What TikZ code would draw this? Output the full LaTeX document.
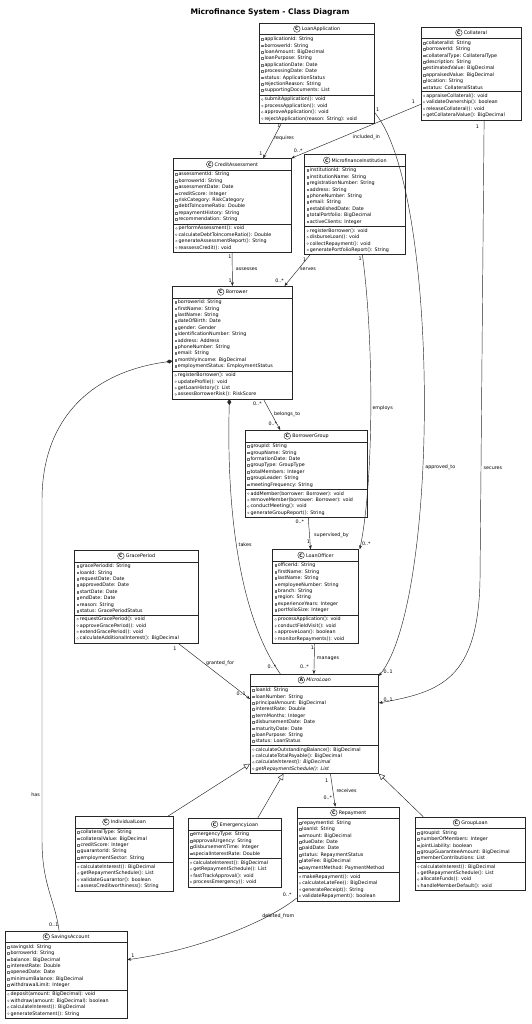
\documentclass[tikz,border=0pt]{standalone}
\usepackage{fontspec}
\setmainfont{DejaVu Sans}
\usetikzlibrary{shapes.multipart, arrows.meta}

\newcommand{\cicon}[1]{\tikz[baseline=-0.65ex]\node[shape=circle, draw=black!85, fill=white, line width=0.4pt, inner sep=0pt, minimum size=6.6pt, anchor=center, font=\fontsize{4.7}{5}\selectfont\bfseries] {#1};\hspace{1.5pt}}
\newcommand{\fd}{\tikz[baseline=0pt]\draw[draw=black!55, line width=0.25pt] (0pt,0.6pt) rectangle (1.8pt,2.4pt);\hspace{1.2pt}}
\newcommand{\md}{\tikz[baseline=0pt]\draw[draw=black!55, line width=0.25pt] (0.95pt,1.5pt) circle[radius=0.95pt];\hspace{1.2pt}}

\tikzset{
  classbox/.style={draw=black!85, fill=white, line width=0.5pt, anchor=north west,
    rectangle split, rectangle split parts=3, rectangle split part align={center,left,left},
    align=left, inner xsep=2pt, inner ysep=2pt, font=\fontsize{4.8}{6.4}\selectfont},
  assoc/.style={draw=black!85, line width=0.45pt, -{Stealth[length=4pt,width=3pt]}},
  comp/.style={draw=black!85, line width=0.45pt, {Diamond[length=6pt,width=4pt]}-},
  inherit/.style={draw=black!85, line width=0.45pt, -{Triangle[open,length=6pt,width=6pt,fill=white]}},
  lbl/.style={font=\fontsize{4.8}{5.5}\selectfont, inner sep=0.5pt},
}

\begin{document}
\begin{tikzpicture}[x=1pt, y=-1pt]
  \useasboundingbox (0,0) rectangle (531,1024);

  \node[font=\fontsize{7.6}{9}\selectfont\bfseries] (title) at (270,12) {Microfinance System - Class Diagram};

  % classes
  \node[classbox, minimum width=115pt] (loanapp) at (259,23) {\cicon{C}LoanApplication
    \nodepart{two}\fd applicationId: String\\ \fd borrowerId: String\\ \fd loanAmount: BigDecimal\\ \fd loanPurpose: String\\ \fd applicationDate: Date\\ \fd processingDate: Date\\ \fd status: ApplicationStatus\\ \fd rejectionReason: String\\ \fd supportingDocuments: List
    \nodepart{three}\md submitApplication(): void\\ \md processApplication(): void\\ \md approveApplication(): void\\ \md rejectApplication(reason: String): void};

  \node[classbox, minimum width=100.3pt] (collateral) at (420.7,26.7) {\cicon{C}Collateral
    \nodepart{two}\fd collateralId: String\\ \fd borrowerId: String\\ \fd collateralType: CollateralType\\ \fd description: String\\ \fd estimatedValue: BigDecimal\\ \fd appraisedValue: BigDecimal\\ \fd location: String\\ \fd status: CollateralStatus
    \nodepart{three}\md appraiseCollateral(): void\\ \md validateOwnership(): boolean\\ \md releaseCollateral(): void\\ \md getCollateralValue(): BigDecimal};

  \node[classbox, minimum width=117.7pt] (credit) at (173,158.3) {\cicon{C}CreditAssessment
    \nodepart{two}\fd assessmentId: String\\ \fd borrowerId: String\\ \fd assessmentDate: Date\\ \fd creditScore: Integer\\ \fd riskCategory: RiskCategory\\ \fd debtToIncomeRatio: Double\\ \fd repaymentHistory: String\\ \fd recommendation: String
    \nodepart{three}\md performAssessment(): void\\ \md calculateDebtToIncomeRatio(): Double\\ \md generateAssessmentReport(): String\\ \md reassessCredit(): void};

  \node[classbox, minimum width=100.7pt] (mfi) at (304.3,154.3) {\cicon{C}MicrofinanceInstitution
    \nodepart{two}\fd institutionId: String\\ \fd institutionName: String\\ \fd registrationNumber: String\\ \fd address: String\\ \fd phoneNumber: String\\ \fd email: String\\ \fd establishedDate: Date\\ \fd totalPortfolio: BigDecimal\\ \fd activeClients: Integer
    \nodepart{three}\md registerBorrower(): void\\ \md disburseLoan(): void\\ \md collectRepayment(): void\\ \md generatePortfolioReport(): String};

  \node[classbox, minimum width=119.7pt] (borrower) at (172.3,286) {\cicon{C}Borrower
    \nodepart{two}\fd borrowerId: String\\ \fd firstName: String\\ \fd lastName: String\\ \fd dateOfBirth: Date\\ \fd gender: Gender\\ \fd identificationNumber: String\\ \fd address: Address\\ \fd phoneNumber: String\\ \fd email: String\\ \fd monthlyIncome: BigDecimal\\ \fd employmentStatus: EmploymentStatus
    \nodepart{three}\md registerBorrower(): void\\ \md updateProfile(): void\\ \md getLoanHistory(): List\\ \md assessBorrowerRisk(): RiskScore};

  \node[classbox, minimum width=122pt] (group) at (245,430) {\cicon{C}BorrowerGroup
    \nodepart{two}\fd groupId: String\\ \fd groupName: String\\ \fd formationDate: Date\\ \fd groupType: GroupType\\ \fd totalMembers: Integer\\ \fd groupLeader: String\\ \fd meetingFrequency: String
    \nodepart{three}\md addMember(borrower: Borrower): void\\ \md removeMember(borrower: Borrower): void\\ \md conductMeeting(): void\\ \md generateGroupReport(): String};

  \node[classbox, minimum width=123.4pt] (grace) at (74.3,550) {\cicon{C}GracePeriod
    \nodepart{two}\fd gracePeriodId: String\\ \fd loanId: String\\ \fd requestDate: Date\\ \fd approvedDate: Date\\ \fd startDate: Date\\ \fd endDate: Date\\ \fd reason: String\\ \fd status: GracePeriodStatus
    \nodepart{three}\md requestGracePeriod(): void\\ \md approveGracePeriod(): void\\ \md extendGracePeriod(): void\\ \md calculateAdditionalInterest(): BigDecimal};

  \node[classbox, minimum width=86pt] (officer) at (272.3,549.3) {\cicon{C}LoanOfficer
    \nodepart{two}\fd officerId: String\\ \fd firstName: String\\ \fd lastName: String\\ \fd employeeNumber: String\\ \fd branch: String\\ \fd region: String\\ \fd experienceYears: Integer\\ \fd portfolioSize: Integer
    \nodepart{three}\md processApplication(): void\\ \md conductFieldVisit(): void\\ \md approveLoan(): boolean\\ \md monitorRepayments(): void};

  \node[classbox, minimum width=128.3pt] (microloan) at (250,674) {\cicon{A}\textit{MicroLoan}
    \nodepart{two}\fd loanId: String\\ \fd loanNumber: String\\ \fd principalAmount: BigDecimal\\ \fd interestRate: Double\\ \fd termMonths: Integer\\ \fd disbursementDate: Date\\ \fd maturityDate: Date\\ \fd loanPurpose: String\\ \fd status: LoanStatus
    \nodepart{three}\md calculateOutstandingBalance(): BigDecimal\\ \md calculateTotalPayable(): BigDecimal\\ \md \textit{calculateInterest(): BigDecimal}\\ \md \textit{getRepaymentSchedule(): List}};

  \node[classbox, minimum width=97.7pt] (individual) at (75,816) {\cicon{C}IndividualLoan
    \nodepart{two}\fd collateralType: String\\ \fd collateralValue: BigDecimal\\ \fd creditScore: Integer\\ \fd guarantorId: String\\ \fd employmentSector: String
    \nodepart{three}\md calculateInterest(): BigDecimal\\ \md getRepaymentSchedule(): List\\ \md validateGuarantor(): boolean\\ \md assessCreditworthiness(): String};

  \node[classbox, minimum width=93.3pt] (emergency) at (187.7,818.3) {\cicon{C}EmergencyLoan
    \nodepart{two}\fd emergencyType: String\\ \fd approvalUrgency: String\\ \fd disbursementTime: Integer\\ \fd specialInterestRate: Double
    \nodepart{three}\md calculateInterest(): BigDecimal\\ \md getRepaymentSchedule(): List\\ \md fastTrackApproval(): void\\ \md processEmergency(): void};

  \node[classbox, minimum width=102.6pt] (repayment) at (296.7,806.7) {\cicon{C}Repayment
    \nodepart{two}\fd repaymentId: String\\ \fd loanId: String\\ \fd amount: BigDecimal\\ \fd dueDate: Date\\ \fd paidDate: Date\\ \fd status: RepaymentStatus\\ \fd lateFee: BigDecimal\\ \fd paymentMethod: PaymentMethod
    \nodepart{three}\md makeRepayment(): void\\ \md calculateLateFee(): BigDecimal\\ \md generateReceipt(): String\\ \md validateRepayment(): boolean};

  \node[classbox, minimum width=110pt] (grouploan) at (415,816.7) {\cicon{C}GroupLoan
    \nodepart{two}\fd groupId: String\\ \fd numberOfMembers: Integer\\ \fd jointLiability: boolean\\ \fd groupGuaranteeAmount: BigDecimal\\ \fd memberContributions: List
    \nodepart{three}\md calculateInterest(): BigDecimal\\ \md getRepaymentSchedule(): List\\ \md allocateFunds(): void\\ \md handleMemberDefault(): void};

  \node[classbox, minimum width=121.7pt] (savings) at (5,930.7) {\cicon{C}SavingsAccount
    \nodepart{two}\fd savingsId: String\\ \fd borrowerId: String\\ \fd balance: BigDecimal\\ \fd interestRate: Double\\ \fd openedDate: Date\\ \fd minimumBalance: BigDecimal\\ \fd withdrawalLimit: Integer
    \nodepart{three}\md deposit(amount: BigDecimal): void\\ \md withdraw(amount: BigDecimal): boolean\\ \md calculateInterest(): BigDecimal\\ \md generateStatement(): String};

  % associations
  \draw[assoc] ([xshift=-35.5pt]loanapp.south) -- ([xshift=31pt]credit.north)
    node[lbl, at start, anchor=north east] (req-a) {1}
    node[lbl, at end, anchor=south east, yshift=2pt] (req-b) {1}
    node[lbl, pos=0.42, anchor=west] (req-l) {requires};
  \draw[assoc] ([yshift=15.7pt]collateral.south west) -- (credit.north east)
    node[lbl, at start, anchor=south east, xshift=-5pt] (inc-a) {1}
    node[lbl, at end, anchor=south west, xshift=2pt, yshift=5pt] (inc-b) {0..*}
    node[lbl, pos=0.42, anchor=north, yshift=-7pt] (inc-l) {included\_in};
  \draw[assoc] ([yshift=11.3pt]loanapp.south east) .. controls (440,190) and (440,600) .. ([yshift=-2pt]microloan.north east)
    node[lbl, at start, anchor=south west, xshift=1pt] (app-a) {1}
    node[lbl, at end, anchor=south west, xshift=4pt, yshift=1.5pt] (app-b) {0..1}
    node[lbl, pos=0.6, anchor=west, xshift=2pt] (app-l) {approved\_to};
  \draw[assoc] ([xshift=13pt]collateral.south)
    node[lbl, anchor=north east, xshift=-4.5pt, yshift=-3.8pt] (sec-a) {1}
    -- (480,580) .. controls (478,680) and (440,692) .. ([yshift=-29pt]microloan.north east)
    node[lbl, at end, anchor=south west, xshift=4pt, yshift=0.5pt] (sec-b) {0..1};
  \node[lbl, anchor=west] (sec-l) at (483,468) {secures};
  \draw[assoc] (credit.south) -- (borrower.north)
    node[lbl, at start, anchor=north east, yshift=-2pt] (ass-a) {1}
    node[lbl, at end, anchor=south east, yshift=2.5pt] (ass-b) {1}
    node[lbl, pos=0.5, anchor=west, xshift=3pt] (ass-l) {assesses};
  \draw[assoc] ([xshift=-45pt]mfi.south) -- ([xshift=-8pt]borrower.north east)
    node[lbl, at start, anchor=north east, xshift=-3pt, yshift=-2pt] (srv-a) {1}
    node[lbl, at end, anchor=south east, yshift=2.5pt] (srv-b) {0..*}
    node[lbl, pos=0.47, anchor=west, xshift=1.5pt] (srv-l) {serves};
  \draw[assoc] ([xshift=7.5pt]mfi.south) .. controls (374,340) and (374,480) .. ([xshift=1pt]officer.north east)
    node[lbl, at start, anchor=north east, yshift=-1.5pt] (emp-a) {1}
    node[lbl, at end, anchor=south west, xshift=1.5pt, yshift=3.5pt] (emp-b) {0..*}
    node[lbl, pos=0.5, anchor=west, xshift=1pt] (emp-l) {employs};
  \draw[assoc] ([xshift=31pt]borrower.south) -- ([xshift=-26pt]group.north)
    node[lbl, at start, anchor=north east, xshift=-1pt, yshift=-2pt] (bel-a) {0..*}
    node[lbl, at end, anchor=south east, xshift=-2.5pt, yshift=3.5pt] (bel-b) {0..*}
    node[lbl, pos=0.5, anchor=west, xshift=1.5pt] (bel-l) {belongs\_to};
  \draw[comp] ([xshift=-3pt]borrower.south) .. controls (226,520) and (242,620) .. ([xshift=-34pt]microloan.north)
    node[lbl, at end, anchor=south east, xshift=-3.5pt, yshift=4.5pt] (tak-b) {0..*}
    node[lbl, pos=0.44, anchor=west, xshift=1.5pt] (tak-l) {takes};
  \draw[comp] ([yshift=38pt]borrower.south west) .. controls (90,372) and (42,420) .. (42,500) -- (42,840) .. controls (42,885) and (55,900) .. ([xshift=-7pt]savings.north)
    node[lbl, at end, anchor=south east, yshift=3pt] (has-b) {0..1};
  \node[lbl, anchor=east] (has-l) at (40.5,795) {has};
  \draw[assoc] ([xshift=2pt]group.south) -- ([xshift=-5pt]officer.north)
    node[lbl, at start, anchor=north east, xshift=-3.5pt, yshift=-1.5pt] (sup-a) {0..*}
    node[lbl, at end, anchor=south east, yshift=5pt] (sup-b) {1}
    node[lbl, pos=0.55, anchor=west, xshift=4pt] (sup-l) {supervised\_by};
  \draw[assoc] ([xshift=42pt]grace.south) -- ([yshift=-25pt]microloan.north west)
    node[lbl, at start, anchor=north east, xshift=-1pt, yshift=-2.5pt] (gra-a) {1}
    node[lbl, at end, anchor=south east, xshift=-3.5pt, yshift=2.5pt] (gra-b) {0..1}
    node[lbl, pos=0.35, anchor=west, xshift=2pt] (gra-l) {granted\_for};
  \draw[assoc] ([xshift=-1pt]officer.south) -- ([xshift=-0.5pt]microloan.north)
    node[lbl, at start, anchor=north east, yshift=-2pt] (man-a) {1}
    node[lbl, at end, anchor=south east, xshift=-4.5pt, yshift=4.5pt] (man-b) {0..*}
    node[lbl, pos=0.5, anchor=west, xshift=2pt] (man-l) {manages};
  \draw[assoc] ([xshift=16pt]microloan.south) -- ([xshift=-13pt]repayment.north)
    node[lbl, at start, anchor=north east, xshift=-1.5pt, yshift=-4.5pt] (rec-a) {1}
    node[lbl, at end, anchor=south east, xshift=-2.5pt, yshift=6pt] (rec-b) {0..*}
    node[lbl, pos=0.5, anchor=west, xshift=3pt] (rec-l) {receives};
  \draw[assoc] ([yshift=3pt]repayment.south west) .. controls (270,920) and (200,950) .. ([yshift=-29pt]savings.north east)
    node[lbl, at start, anchor=south east, xshift=-4.5pt, yshift=0.5pt] (deb-a) {0..*}
    node[lbl, at end, anchor=south west, xshift=3.5pt, yshift=1.5pt] (deb-b) {1}
    node[lbl, pos=0.18, anchor=north, yshift=-3pt] (deb-l) {debited\_from};

  % inheritance
  \draw[inherit] ([xshift=-5pt]individual.north east) -- ([yshift=10pt]microloan.south west);
  \draw[inherit] ([xshift=23pt]emergency.north) -- ([xshift=-31pt]microloan.south);
  \draw[inherit] ([xshift=-47pt]grouploan.north) -- (microloan.south east);
\end{tikzpicture}
\end{document}
